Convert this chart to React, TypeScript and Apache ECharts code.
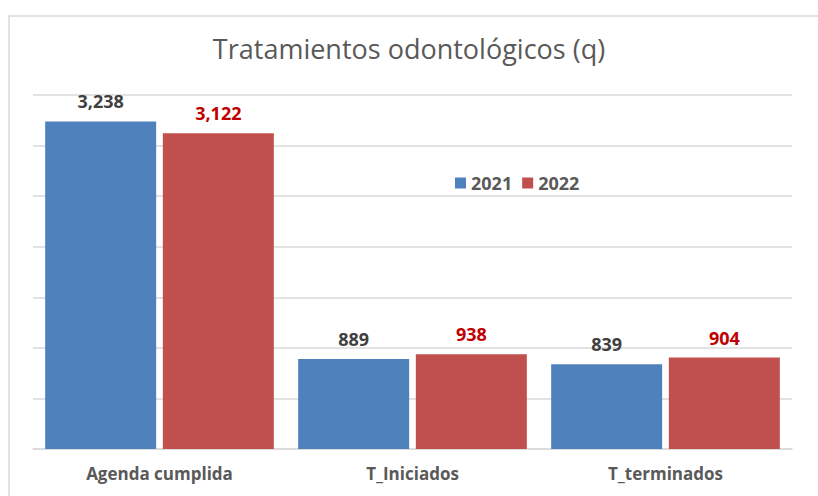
import React, { useEffect, useRef } from "react";
import * as echarts from "echarts";

const categories = ["Agenda cumplida", "T_Iniciados", "T_terminados"];
const seriesNames = ["2021", "2022"];
const values2021 = [3238, 889, 839];
const values2022 = [3122, 938, 904];

const fmt = (v: number) => v.toLocaleString("en-US");

export default function App() {
  const ref = useRef<HTMLDivElement>(null);
  useEffect(() => {
    if (!ref.current) return;
    const chart = echarts.init(ref.current, null, { renderer: "svg" });
    const font = "'Open Sans', 'Noto Sans', sans-serif";
    chart.setOption({
      animation: false,
      backgroundColor: "#ffffff",
      title: {
        text: "Tratamientos odontológicos (q)",
        left: "center",
        top: 30,
        textStyle: { fontFamily: font, fontSize: 27, fontWeight: "normal", color: "#595959" },
      },
      legend: {
        data: seriesNames,
        left: 450,
        top: 169,
        itemWidth: 11,
        itemHeight: 11,
        itemGap: 10,
        icon: "rect",
        textStyle: { fontFamily: font, fontSize: 18, fontWeight: "bold", color: "#595959" },
      },
      graphic: [
        {
          type: "rect",
          shape: { x: 9, y: 16, width: 900, height: 600 },
          style: { fill: "none", stroke: "#d9d9d9", lineWidth: 1.5 },
          silent: true,
        },
      ],
      grid: { left: 33, right: 26, top: 95, bottom: 47, containLabel: false },
      xAxis: {
        type: "category",
        data: categories,
        axisLine: { lineStyle: { color: "#d9d9d9", width: 1.5 } },
        axisTick: { show: false },
        axisLabel: {
          margin: 16,
          fontFamily: font,
          fontSize: 17,
          fontWeight: "bold",
          color: "#595959",
        },
      },
      yAxis: {
        type: "value",
        min: 0,
        max: 3500,
        interval: 500,
        axisLabel: { show: false },
        axisLine: { show: false },
        axisTick: { show: false },
        splitLine: { lineStyle: { color: "#d9d9d9", width: 1.5 } },
      },
      series: [
        {
          name: seriesNames[0],
          type: "bar",
          data: values2021,
          barWidth: 111,
          barGap: "6%",
          itemStyle: { color: "#4f81bd" },
          label: {
            show: true,
            position: "top",
            distance: 11,
            formatter: (p: any) => fmt(p.value),
            fontFamily: font,
            fontSize: 18,
            fontWeight: "bold",
            color: "#404040",
          },
        },
        {
          name: seriesNames[1],
          type: "bar",
          data: values2022,
          barWidth: 111,
          barGap: "6%",
          itemStyle: { color: "#c0504d" },
          label: {
            show: true,
            position: "top",
            distance: 11,
            formatter: (p: any) => fmt(p.value),
            fontFamily: font,
            fontSize: 18,
            fontWeight: "bold",
            color: "#c00000",
          },
        },
      ],
    });
    return () => chart.dispose();
  }, []);
  return (
    <div
      ref={ref}
      style={{ position: "absolute", left: 0, top: 0, width: 818, height: 496 }}
    />
  );
}
